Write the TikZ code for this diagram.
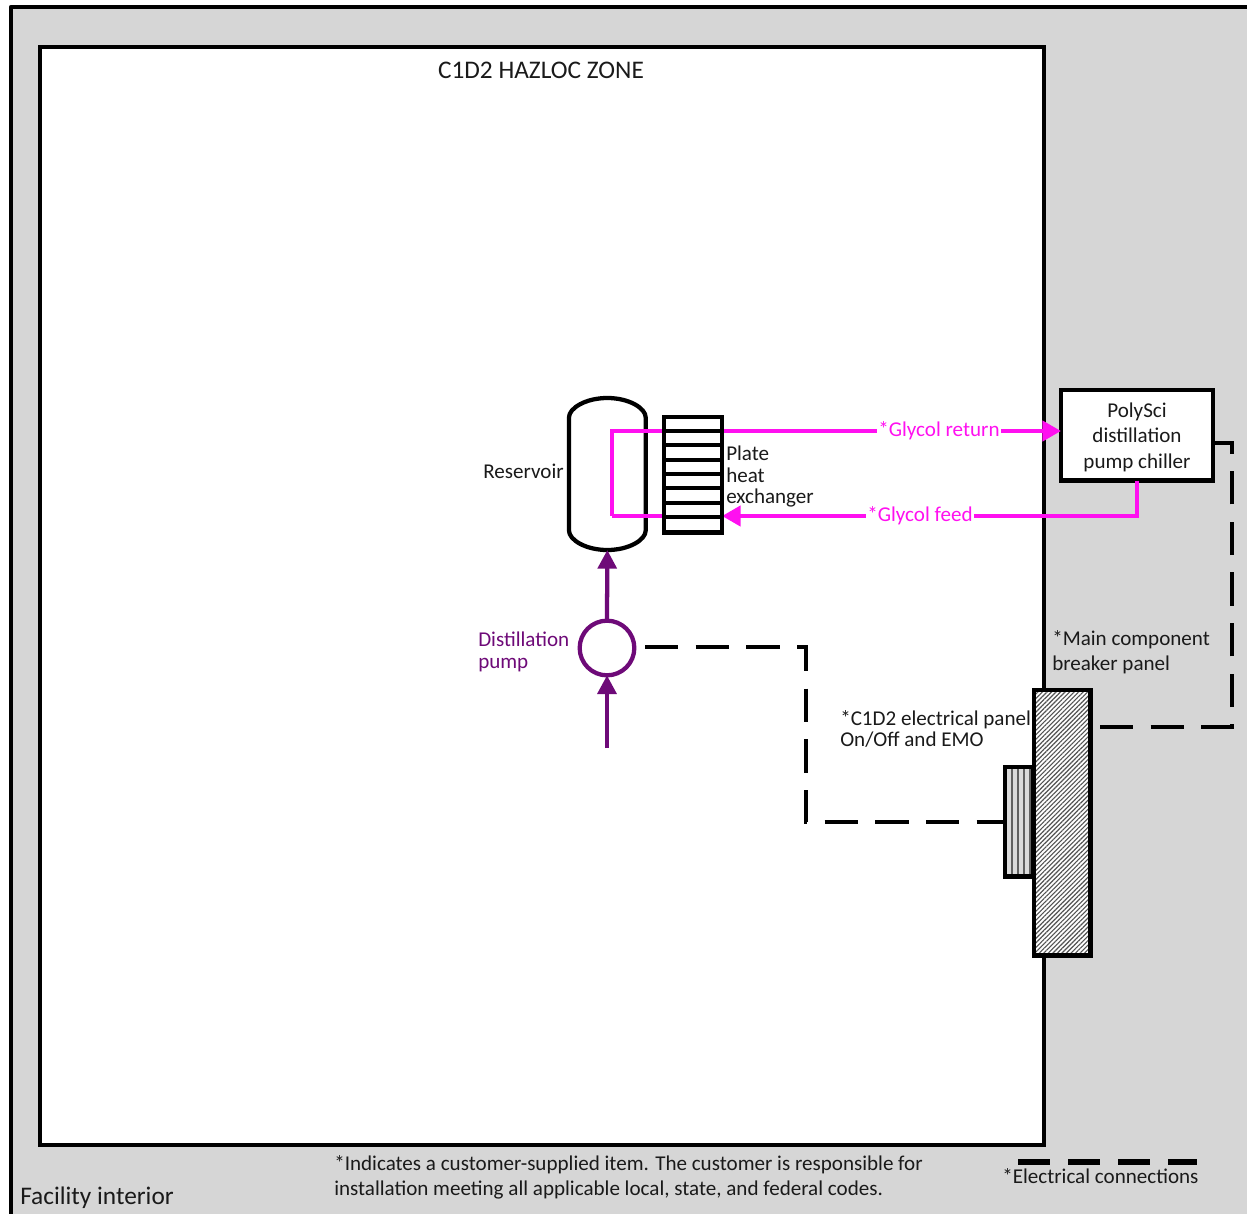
\documentclass[tikz,border=0pt]{standalone}
\usepackage{fontspec}
\setmainfont{Carlito}
\usetikzlibrary{patterns.meta,arrows.meta}
\definecolor{facility}{HTML}{D6D6D6}
\definecolor{glycol}{HTML}{FF10F0}
\definecolor{pumpc}{HTML}{6E0A78}
\definecolor{txt}{HTML}{1A1A1A}
\tikzset{
  x=0.75pt,y=-0.75pt,
  wall/.style={draw=black,line width=3.2pt,line join=round},
  label/.style={font=\fontsize{15.8}{15.8}\selectfont,text=txt,inner sep=0pt,align=left},
  box/.style={draw=black,line width=3.4pt,inner sep=0pt,outer sep=0pt,rectangle},
  anchorbox/.style={inner sep=0pt,outer sep=0pt,rectangle},
  glyline/.style={draw=glycol,line width=3.3pt,line join=miter},
  pumpline/.style={draw=pumpc,line width=3.2pt},
  elec/.style={draw=black,line width=3.2pt,dash pattern=on 25pt off 13pt},
  glyarrow/.style={glyline,-{Triangle[length=14pt,width=15pt]}},
  pumparrow/.style={pumpline,-{Triangle[length=14pt,width=14pt]}},
}
\begin{document}
\begin{tikzpicture}
\useasboundingbox (0,0) rectangle (1247,1214);
\fill[white] (0,0) rectangle (1247,1214);
\fill[facility] (11,7) rectangle (1247,1214);
\draw[wall] (11,1214) -- (11,7) -- (1247,7);
\node[anchorbox,fill=white,draw=black,line width=3.2pt,minimum width=753pt,minimum height=823.5pt,anchor=north west] (zone) at (40,47) {};

% panels
\node[anchorbox,minimum width=21pt,minimum height=82pt,anchor=north west] (emo) at (1005,767) {};
\fill[black!14] (emo.north west) rectangle (emo.south east);
\fill[pattern={Lines[angle=90,distance=4.6pt,line width=1.6pt]},pattern color=black!62] (emo.north west) rectangle (emo.south east);
\draw[box] (emo.north west) rectangle (emo.south east);
\node[box,preaction={fill=white},pattern={Lines[angle=45,distance=2.4pt,line width=.85pt]},pattern color=black!68,minimum width=42.5pt,minimum height=199pt,anchor=north west] (breaker) at (1034,690) {};

% reservoir
\node[anchorbox,minimum width=57.5pt,minimum height=114pt,anchor=north west] (res) at (569,398) {};
\draw[wall,fill=white] ([yshift=-14.5pt]res.north west)
  .. controls +(0,-9) and +(-22,0) .. (res.north)
  .. controls +(22,0) and +(0,-9) .. ([yshift=-14.5pt]res.north east)
  -- ([yshift=14.5pt]res.south east)
  .. controls +(0,9) and +(22,0) .. (res.south)
  .. controls +(-22,0) and +(0,9) .. ([yshift=14.5pt]res.south west)
  -- cycle;

% chiller
\node[box,fill=white,minimum width=114pt,minimum height=68pt,anchor=north west,font=\fontsize{15.8}{19}\selectfont,text=txt,align=center] (chiller) at (1061,390) {\rule{0pt}{13.6pt}PolySci\\distillation\\pump chiller};

% glycol
\coordinate (retin) at (612,431);
\coordinate (feedin) at (612,516);
\node[anchorbox,minimum width=43.5pt,minimum height=86.5pt,anchor=north west] (phe) at (664,417) {};
\draw[glyline] (feedin) -- (retin) -- (phe.west |- retin);
\draw[glyline] (feedin) -- (phe.west |- feedin);
\draw[glyarrow] (phe.east |- retin) -- (chiller.west |- retin);
\draw[glyarrow] (chiller.south) |- (phe.east |- feedin);

% plate heat exchanger
\draw[box,fill=white] (phe.north west) rectangle (phe.south east);
\foreach \yy in {431,445,460,474,488,503,517}{
  \draw[draw=black,line width=3pt] (phe.west |- 0,\yy) -- (phe.east |- 0,\yy);
}

% glycol labels
\node[anchorbox,fill=white,label,text=glycol,anchor=base west,inner xsep=1pt,inner ysep=1pt] (gr) at (877,436) {*Glycol return};
\node[anchorbox,fill=white,label,text=glycol,anchor=base west,inner xsep=1pt,inner ysep=1pt] (gf) at (866,521) {*Glycol feed};

% pump
\node[circle,draw=pumpc,line width=3.2pt,fill=white,minimum size=41pt,inner sep=0pt,outer sep=0pt] (pump) at (607,648) {};
\draw[pumparrow] (pump.north) -- (res.south);
\coordinate (pumpin) at (607,748);
\draw[pumparrow] (pumpin) -- (pump.south);

% electrical
\coordinate (pstart) at (645,647);
\coordinate (pbend1) at (806,647);
\coordinate (pbend2) at (806,822);
\draw[elec] (pstart) -- (pbend1) -- (pbend2) -- (emo.west |- pbend2);
\coordinate (cbend1) at (1232,443);
\coordinate (cbend2) at (1232,727);
\coordinate (bstart) at (1100,727);
\draw[elec] (bstart) -- (cbend2) -- (cbend1) -- (chiller.east |- cbend1);
\coordinate (legl) at (1018,1162);
\coordinate (legr) at (1197,1162);
\draw[draw=black,line width=4pt,dash pattern=on 24pt off 13.5pt] (legl) -- (legr);

% labels
\node[label,anchor=base,font=\fontsize{19}{19}\selectfont] (zonelab) at (541,78) {C1D2 HAZLOC ZONE};
\node[label,anchor=base west] (reslab) at (483,478) {Reservoir};
\node[label,anchor=north west,font=\fontsize{15.8}{16}\selectfont] (phelab) at (726,446) {Plate\\heat\\exchanger};
\node[label,anchor=north west,text=pumpc,font=\fontsize{15.8}{16}\selectfont] (pumplab) at (478,632) {Distillation\\pump};
\node[label,anchor=north west,font=\fontsize{15.8}{18.6}\selectfont] (mainlab) at (1052,630) {*Main component\\breaker panel};
\node[label,anchor=north west,font=\fontsize{15.8}{16}\selectfont] (c1lab) at (840,710) {*C1D2 electrical panel\\On/Off and EMO};
\node[label,anchor=north west,font=\fontsize{15.8}{18.6}\selectfont] (notelab) at (334,1155) {*Indicates a customer-supplied item. The customer is responsible for\\installation meeting all applicable local, state, and federal codes.};
\node[label,anchor=base west] (eleclab) at (1002,1183) {*Electrical connections};
\node[label,anchor=base west,font=\fontsize{19}{19}\selectfont] (faclab) at (20,1204) {Facility interior};
\end{tikzpicture}
\end{document}
